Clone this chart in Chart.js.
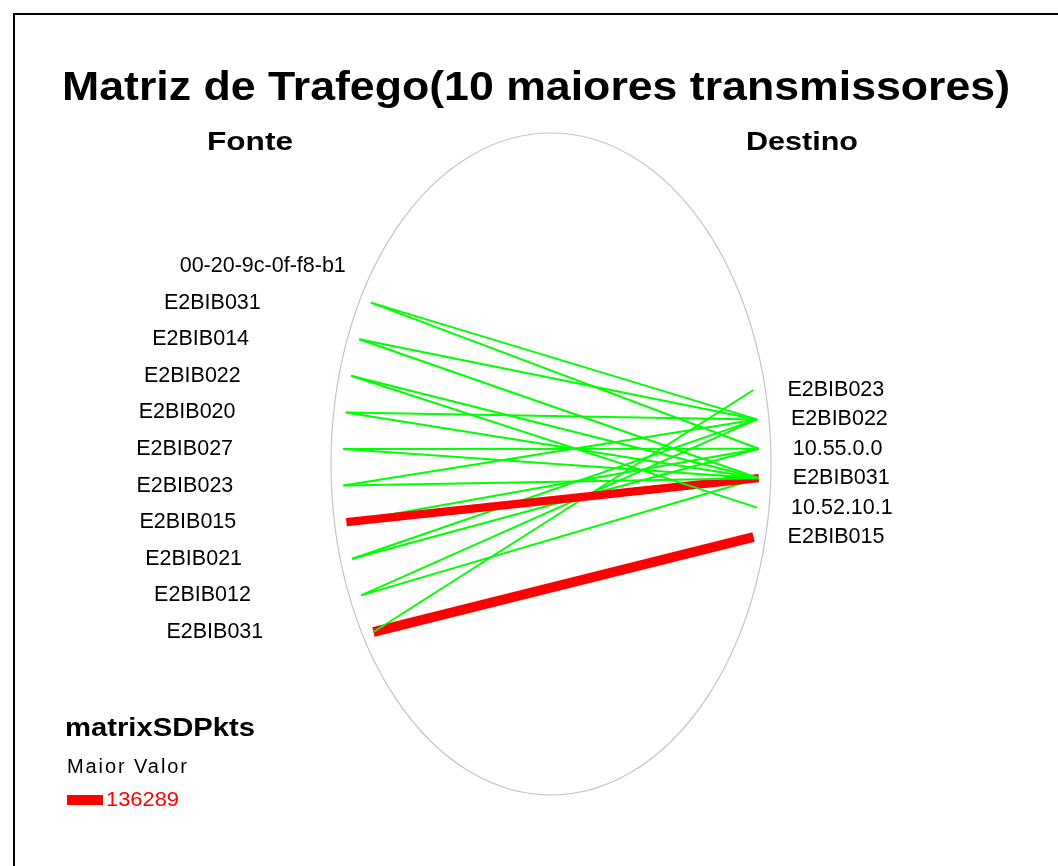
<!DOCTYPE html>
<html>
<head>
<meta charset="utf-8">
<title>Matriz de Trafego</title>
<script src="https://cdn.jsdelivr.net/npm/chart.js@4.4.0/dist/chart.umd.min.js"></script>
<style>
  html, body { margin: 0; padding: 0; background: #fff; }
  #wrap { width: 1058px; height: 866px; }
</style>
</head>
<body>
<div id="wrap"><canvas id="matrixChart" width="1058" height="866"></canvas></div>
<script>
/* ── Data ───────────────────────────────────────────────────── */

const chartTitle  = "Matriz de Trafego(10 maiores transmissores)";
const sourceTitle = "Fonte";
const destTitle   = "Destino";
const metricName  = "matrixSDPkts";
const maxLabel    = "Maior Valor";

const sourceHosts = [
  "00-20-9c-0f-f8-b1", "E2BIB031", "E2BIB014", "E2BIB022", "E2BIB020", "E2BIB027",
  "E2BIB023", "E2BIB015", "E2BIB021", "E2BIB012", "E2BIB031",
];
const destHosts = ["E2BIB023", "E2BIB022", "10.55.0.0", "E2BIB031", "10.52.10.1", "E2BIB015"];

// one entry per conversation: index into sourceHosts / destHosts, packets
const linkSource = [1, 1, 2, 2, 3, 3, 4, 4, 5, 5, 6, 6, 7, 7, 8, 8, 9, 9, 10, 10];
const linkDest   = [1, 2, 1, 3, 3, 4, 1, 3, 2, 3, 1, 3, 3, 2, 1, 2, 1, 3, 0, 5];
const linkPkts   = [9800, 8700, 9100, 10400, 8900, 7600, 11200, 9400, 10800, 9900,
                    8800, 10100, 112400, 7800, 9300, 8600, 9700, 8900, 10200, 136289];

/* ── Layout (chart units = canvas pixels) ───────────────────── */

const FONT = '"Liberation Sans", Arial, sans-serif';
const ELL = { cx: 551, cy: 464, rx: 220, ry: 331 };
const SRC_TOP = 266, SRC_STEP = 36.6;
const DST_TOP = 390, DST_STEP = 29.4;
const INSET = 12;
const MAX_WIDTH = 10;

const maxPkts = Math.max(...linkPkts);

function ellipseHalfWidth(yv) {
  const t = (yv - ELL.cy) / ELL.ry;
  return ELL.rx * Math.sqrt(Math.max(0, 1 - t * t));
}
function sourceNode(i) {
  const yv = SRC_TOP + i * SRC_STEP;
  return { x: ELL.cx - ellipseHalfWidth(yv) + INSET, y: yv };
}
function destNode(j) {
  const yv = DST_TOP + j * DST_STEP;
  return { x: ELL.cx + ellipseHalfWidth(yv) - INSET, y: yv };
}

const datasets = linkPkts.map((v, k) => {
  const ratio = v / maxPkts;
  return {
    label: sourceHosts[linkSource[k]] + " → " + destHosts[linkDest[k]],
    data: [sourceNode(linkSource[k]), destNode(linkDest[k])],
    showLine: true,
    borderColor: ratio > 0.5 ? "#ff0000" : "#00ff00",
    borderWidth: Math.max(2, MAX_WIDTH * ratio),
    borderCapStyle: "butt",
    pointRadius: 0,
    pointHoverRadius: 0,
  };
});

/* ── Helpers ────────────────────────────────────────────────── */

// draw text left aligned; "spaced" widens by letter spacing, "stretch" by scaling glyphs
function fitText(ctx, text, left, base, width, mode) {
  ctx.save();
  ctx.textAlign = "left";
  const natural = ctx.measureText(text).width;
  if (width && mode === "spaced" && "letterSpacing" in ctx && text.length > 1) {
    ctx.letterSpacing = ((width - natural) / (text.length - 1)).toFixed(2) + "px";
    ctx.fillText(text, left, base);
  } else if (width) {
    ctx.translate(left, base);
    ctx.scale(width / natural, 1);
    ctx.fillText(text, 0, 0);
  } else {
    ctx.fillText(text, left, base);
  }
  ctx.restore();
}

/* ── Decorations plugin ─────────────────────────────────────── */

const matrixDecor = {
  id: "matrixDecor",
  beforeDatasetsDraw(chart) {
    const { ctx, scales: { x, y } } = chart;
    const px = v => x.getPixelForValue(v);
    const py = v => y.getPixelForValue(v);

    ctx.save();
    ctx.fillStyle = "#fff";
    ctx.fillRect(0, 0, chart.width, chart.height);

    // frame
    ctx.strokeStyle = "#000";
    ctx.lineWidth = 2;
    ctx.strokeRect(px(14), py(14), px(1200) - px(14), py(1000) - py(14));

    // ellipse
    ctx.strokeStyle = "#c4c4c4";
    ctx.lineWidth = 1.2;
    ctx.beginPath();
    ctx.ellipse(px(ELL.cx), py(ELL.cy), px(ELL.cx + ELL.rx) - px(ELL.cx),
                py(ELL.cy + ELL.ry) - py(ELL.cy), 0, 0, Math.PI * 2);
    ctx.stroke();

    ctx.fillStyle = "#000";
    ctx.textBaseline = "alphabetic";

    // titles
    ctx.font = "bold 41px " + FONT;
    fitText(ctx, chartTitle, px(62), py(100), 948, "stretch");
    ctx.font = "bold 25px " + FONT;
    fitText(ctx, sourceTitle, px(207), py(150), 86, "stretch");
    fitText(ctx, destTitle, px(746), py(150), 112, "stretch");

    // node labels
    ctx.font = "21.5px " + FONT;
    sourceHosts.forEach((name, i) => {
      const n = sourceNode(i);
      fitText(ctx, name, px(n.x - 207), py(n.y + 6));
    });
    destHosts.forEach((name, j) => {
      const n = destNode(j);
      fitText(ctx, name, px(n.x + 34), py(n.y + 6));
    });

    // legend
    ctx.font = "bold 25px " + FONT;
    fitText(ctx, metricName, px(65), py(736), 190, "stretch");
    ctx.font = "20px " + FONT;
    fitText(ctx, maxLabel, px(67), py(773), 120, "spaced");
    ctx.fillStyle = "#ff0000";
    ctx.fillRect(px(67), py(795), px(103) - px(67), MAX_WIDTH);
    ctx.font = "21px " + FONT;
    fitText(ctx, String(maxPkts), px(106), py(806), 73);
    ctx.restore();
  },
};

/* ── Chart ──────────────────────────────────────────────────── */

new Chart(document.getElementById("matrixChart"), {
  type: "scatter",
  data: { datasets },
  options: {
    responsive: false,
    animation: false,
    layout: { padding: 0 },
    plugins: { legend: { display: false }, tooltip: { enabled: false } },
    scales: {
      x: { type: "linear", min: 0, max: 1058, display: false },
      y: { type: "linear", min: 0, max: 866, reverse: true, display: false },
    },
  },
  plugins: [matrixDecor],
});
</script>
</body>
</html>
